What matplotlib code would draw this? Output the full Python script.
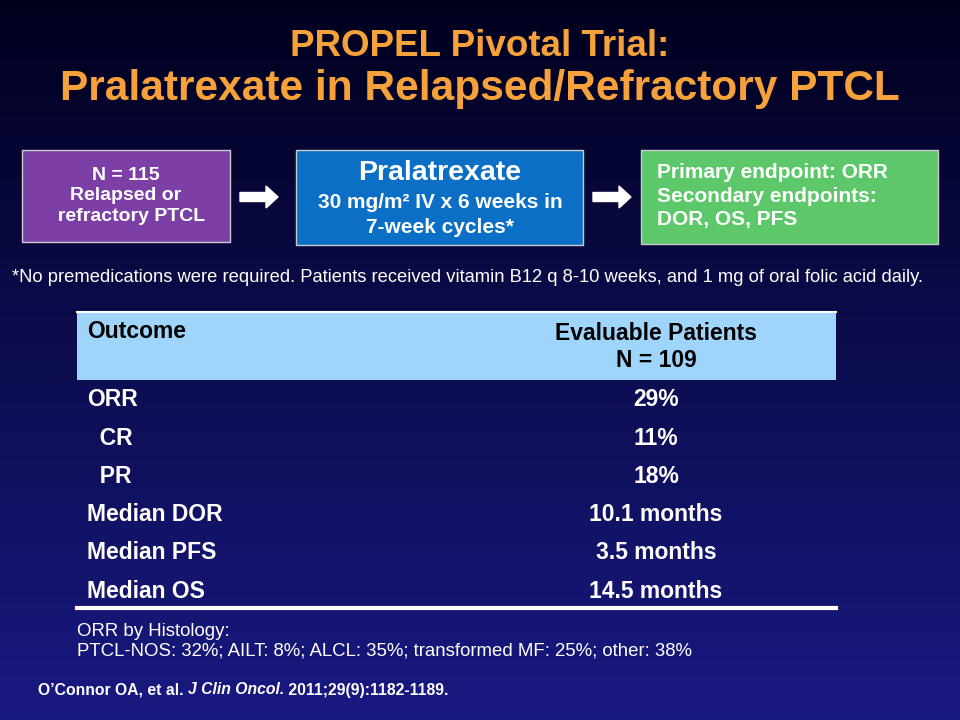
import numpy as np
import matplotlib
matplotlib.use("Agg")
import matplotlib.pyplot as plt
from matplotlib.patches import Rectangle, FancyArrow

plt.rcParams['font.family'] = ['Liberation Sans', 'DejaVu Sans']

title1 = "PROPEL Pivotal Trial:"
title2 = "Pralatrexate in Relapsed/Refractory PTCL"
outcomes = ["ORR", "  CR", "  PR", "Median DOR", "Median PFS", "Median OS"]
values = ["29%", "11%", "18%", "10.1 months", "3.5 months", "14.5 months"]
col_headers = ["Outcome", "Evaluable Patients\nN = 109"]
footnote = "*No premedications were required. Patients received vitamin B12 q 8-10 weeks, and 1 mg of oral folic acid daily."
histology = "ORR by Histology:\nPTCL-NOS: 32%; AILT: 8%; ALCL: 35%; transformed MF: 25%; other: 38%"

fig = plt.figure(figsize=(9.6, 7.2), dpi=100)
ax = fig.add_axes([0, 0, 1, 1])
ax.set_xlim(0, 960); ax.set_ylim(720, 0); ax.axis('off')

t = np.linspace(0, 1, 256)[:, None]
top = np.array([0/255, 0/255, 30/255]); bot = np.array([25/255, 25/255, 130/255])
grad = top + (bot - top) * t[..., None]
grad = np.repeat(grad, 2, axis=1)
ax.imshow(grad, extent=[0, 960, 720, 0], aspect='auto', zorder=0)

orange = '#F7A13A'
ax.text(480, 47, title1, color=orange, fontsize=26.5, fontweight='bold', ha='center', va='center')
ax.text(480, 89, title2, color=orange, fontsize=30.5, fontweight='bold', ha='center', va='center')

def box(x0, y0, x1, y1, c):
    ax.add_patch(Rectangle((x0, y0), x1-x0, y1-y0, facecolor=c, edgecolor='#cccccc', lw=1, zorder=2))

box(22, 150, 230, 242, '#7B3FA6')
ax.text(126, 196, "N = 115\nRelapsed or\n  refractory PTCL", color='white', fontsize=14, fontweight='bold',
        ha='center', va='center', linespacing=1.25, zorder=3)
box(296, 150, 583, 245, '#0B6FC6')
ax.text(440, 173, "Pralatrexate", color='white', fontsize=20.5, fontweight='bold', ha='center', va='center', zorder=3)
ax.text(440, 215, "30 mg/m² IV x 6 weeks in\n7-week cycles*", color='white', fontsize=15, fontweight='bold',
        ha='center', va='center', linespacing=1.35, zorder=3)
box(641, 150, 938, 244, '#5DC86A')
ax.text(657, 196, "Primary endpoint: ORR\nSecondary endpoints:\nDOR, OS, PFS", color='white', fontsize=15,
        fontweight='bold', ha='left', va='center', linespacing=1.3, zorder=3)

for xa in (240, 593):
    ax.add_patch(FancyArrow(xa, 197, 26, 0, width=9, head_width=22, head_length=12,
                            color='white', length_includes_head=False, zorder=3))

ax.text(12, 277, footnote, color='white', fontsize=13.2, ha='left', va='center')

ax.add_patch(Rectangle((77, 313), 759, 67, facecolor='#9FD5FB', edgecolor='none', zorder=2))
ax.plot([77, 836], [312, 312], color='white', lw=1.5, zorder=3)
ax.text(87, 332, col_headers[0], color='black', fontsize=16.5, fontweight='bold', ha='left', va='center', zorder=3)
ax.text(656, 347, col_headers[1], color='black', fontsize=16.5, fontweight='bold', ha='center', va='center',
        linespacing=1.25, zorder=3)
y0, dy = 400, 38.2
for i, (o, v) in enumerate(zip(outcomes, values)):
    y = y0 + i * dy
    ax.text(87, y, o, color='white', fontsize=16.5, fontweight='bold', ha='left', va='center')
    ax.text(656, y, v, color='white', fontsize=16.5, fontweight='bold', ha='center', va='center')
ax.plot([77, 836], [608, 608], color='white', lw=3)

ax.text(77, 641, histology, color='white', fontsize=13.4, ha='left', va='center', linespacing=1.2)

fig.canvas.draw()
r = fig.canvas.get_renderer()
x = 38
for s, st in [("O\u2019Connor OA, et al. ", 'normal'), ("J Clin Oncol.", 'italic'), (" 2011;29(9):1182-1189.", 'normal')]:
    tx = ax.text(x, 690, s, color='white', fontsize=11.3, fontweight='bold', style=st, ha='left', va='center')
    bb = tx.get_window_extent(renderer=r)
    x += bb.width * 960 / fig.bbox.width

fig.savefig("out.png", dpi=100)
